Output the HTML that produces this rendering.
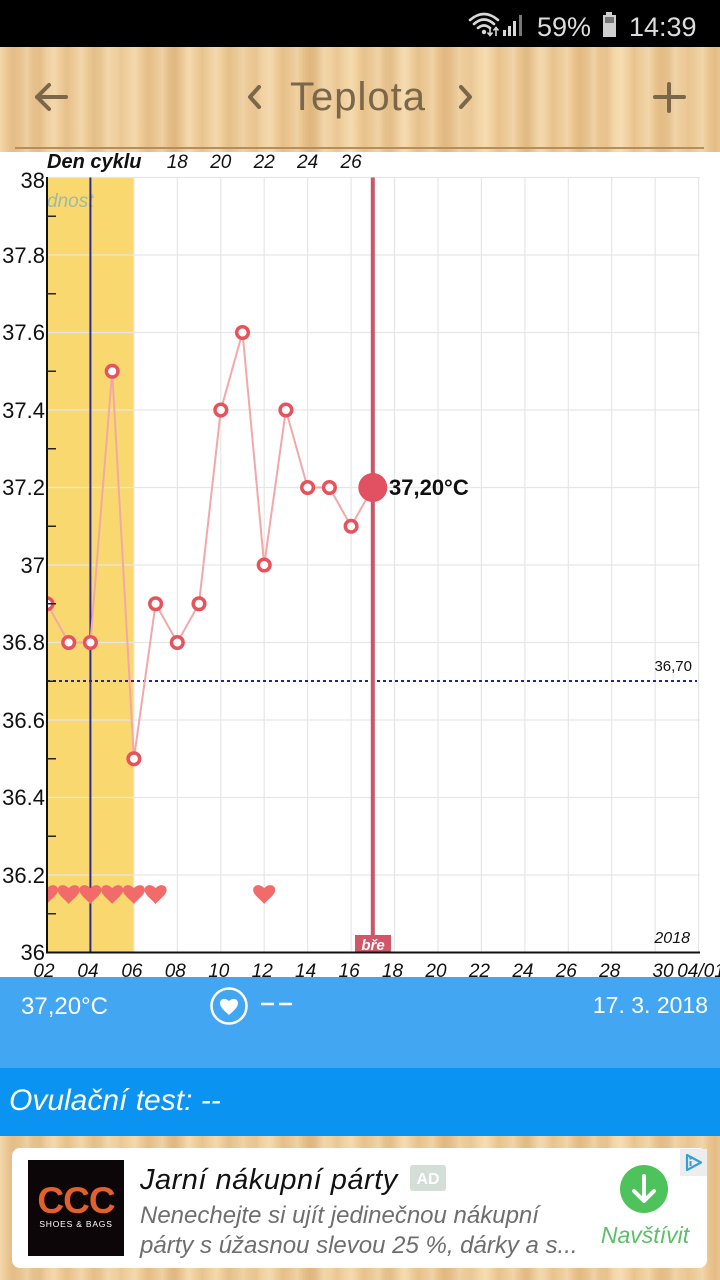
<!DOCTYPE html>
<html>
<head>
<meta charset="utf-8">
<style>
  html,body{margin:0;padding:0;}
  body{width:720px;height:1280px;position:relative;overflow:hidden;background:#fff;font-family:"Liberation Sans","DejaVu Sans",sans-serif;}
  .wood{
    background-color:#edca96;
    background-image:
      repeating-linear-gradient(90deg, rgba(255,240,210,0.35) 0px, rgba(255,240,210,0.0) 7px, rgba(200,150,90,0.18) 13px, rgba(255,240,210,0.0) 19px, rgba(255,245,220,0.3) 27px),
      repeating-linear-gradient(90deg, rgba(190,140,80,0.0) 0px, rgba(190,140,80,0.15) 31px, rgba(255,235,200,0.25) 47px, rgba(190,140,80,0.0) 71px),
      repeating-linear-gradient(90deg, rgba(240,210,160,0) 0px, rgba(220,170,110,0.2) 53px, rgba(250,225,180,0.2) 89px, rgba(240,210,160,0) 131px);
  }
  .abs{position:absolute;}
</style>
</head>
<body>

<!-- status bar -->
<div class="abs" style="left:0;top:0;width:720px;height:47px;background:#000;"></div>
<svg class="abs" style="left:0;top:0" width="720" height="47" viewBox="0 0 720 47">
  <g fill="none" stroke="#d8d8d8" stroke-width="2.6" stroke-linecap="round">
    <path d="M470 20 Q484 8 498 20"/>
    <path d="M474 24 Q484 15 494 24"/>
    <path d="M478 28 Q484 23 490 28"/>
  </g>
  <circle cx="484" cy="32" r="2.2" fill="#d8d8d8"/>
  <path d="M490 28 L490 35 M487.5 32.5 L490 35.5 L492.5 32.5" stroke="#d8d8d8" stroke-width="1.6" fill="none"/>
  <path d="M496 36 L496 28 M493.5 30.5 L496 27.5 L498.5 30.5" stroke="#d8d8d8" stroke-width="1.6" fill="none"/>
  <rect x="503" y="30" width="3" height="6" fill="#d8d8d8"/>
  <rect x="508" y="26" width="3" height="10" fill="#d8d8d8"/>
  <rect x="513" y="21" width="3" height="15" fill="#d8d8d8"/>
  <rect x="519" y="15" width="3" height="21" fill="#777"/>
  <text x="537" y="36" font-size="27" fill="#dcdcdc" font-family="Liberation Sans, sans-serif">59%</text>
  <rect x="606" y="12" width="6" height="3" fill="#cfcfcf"/>
  <rect x="603" y="15" width="13" height="22" fill="#cfcfcf"/>
  <rect x="605" y="17" width="9" height="6" fill="#777"/>
  <text x="629" y="36" font-size="27" fill="#dcdcdc" font-family="Liberation Sans, sans-serif">14:39</text>
</svg>

<!-- header wood -->
<div class="abs wood" style="left:0;top:47px;width:720px;height:105px;"></div>
<div class="abs" style="left:15px;top:147px;width:689px;height:2px;background:#b98d57;"></div>
<svg class="abs" style="left:0;top:47px" width="720" height="100" viewBox="0 47 720 100">
  <g stroke="#7a6649" stroke-width="4" fill="none" stroke-linecap="round" stroke-linejoin="round">
    <path d="M37 97 L66 97 M49 85 L37 97 L49 109"/>
    <path d="M259 87 L250 97 L259 107"/>
    <path d="M461 87 L470 97 L461 107"/>
    <path d="M669 84 L669 111 M655 97 L684 97"/>
  </g>
  <text x="358" y="110" text-anchor="middle" font-size="40" fill="#7a6649" font-family="Liberation Sans, sans-serif" letter-spacing="1">Teplota</text>
</svg>

<!-- chart -->
<svg class="abs" style="left:0;top:0" width="720" height="980" viewBox="0 0 720 980" font-family="Liberation Sans, sans-serif">
  <defs>
    <clipPath id="plot"><rect x="47" y="170" width="653" height="783"/></clipPath>
  </defs>
  <rect x="47" y="177.5" width="86.9" height="775" fill="#f9d96f"/>
  <g stroke="#e6e6e6" stroke-width="1.2">
    <line x1="47" y1="177.5" x2="700" y2="177.5"/>
    <line x1="47" y1="255" x2="700" y2="255"/>
    <line x1="47" y1="332.5" x2="700" y2="332.5"/>
    <line x1="47" y1="410" x2="700" y2="410"/>
    <line x1="47" y1="487.5" x2="700" y2="487.5"/>
    <line x1="47" y1="565" x2="700" y2="565"/>
    <line x1="47" y1="642.5" x2="700" y2="642.5"/>
    <line x1="47" y1="720" x2="700" y2="720"/>
    <line x1="47" y1="797.5" x2="700" y2="797.5"/>
    <line x1="47" y1="875" x2="700" y2="875"/>
  </g>
  <g stroke="#e6e6e6" stroke-width="1.2">
    <line x1="133.9" y1="177.5" x2="133.9" y2="952"/>
    <line x1="177.3" y1="177.5" x2="177.3" y2="952"/>
    <line x1="220.8" y1="177.5" x2="220.8" y2="952"/>
    <line x1="264.2" y1="177.5" x2="264.2" y2="952"/>
    <line x1="307.6" y1="177.5" x2="307.6" y2="952"/>
    <line x1="351.1" y1="177.5" x2="351.1" y2="952"/>
    <line x1="394.5" y1="177.5" x2="394.5" y2="952"/>
    <line x1="438" y1="177.5" x2="438" y2="952"/>
    <line x1="481.4" y1="177.5" x2="481.4" y2="952"/>
    <line x1="524.9" y1="177.5" x2="524.9" y2="952"/>
    <line x1="568.3" y1="177.5" x2="568.3" y2="952"/>
    <line x1="611.7" y1="177.5" x2="611.7" y2="952"/>
    <line x1="655.2" y1="177.5" x2="655.2" y2="952"/>
    <line x1="698.6" y1="177.5" x2="698.6" y2="952"/>
  </g>
  <text x="47" y="207" font-size="19" fill="#9fb9a2" font-style="italic" clip-path="url(#plot)">dnost</text>
  <line x1="90.4" y1="177.5" x2="90.4" y2="952" stroke="#2b2b90" stroke-width="2"/>
  <line x1="47" y1="681" x2="697" y2="681" stroke="#2424a0" stroke-width="2" stroke-dasharray="3,3"/>
  <text x="692" y="671" text-anchor="end" font-size="15" fill="#111">36,70</text>
  <text x="690" y="943" text-anchor="end" font-size="16" fill="#111" font-style="italic">2018</text>
  <line x1="372.8" y1="177.5" x2="372.8" y2="940" stroke="#c9566a" stroke-width="4"/>
  <rect x="355" y="935" width="36" height="18" fill="#d05668"/>
  <text x="373" y="950" text-anchor="middle" font-size="15" fill="#fff" font-style="italic" font-weight="bold">bře</text>

  <g clip-path="url(#plot)">
    <g fill="#f26b6b">
      <path d="M0 8 C-3 4 -11 -1 -11 -6 C-11 -11 -5 -13 0 -8 C5 -13 11 -11 11 -6 C11 -1 3 4 0 8 Z" transform="translate(47,896)"/>
      <path d="M0 8 C-3 4 -11 -1 -11 -6 C-11 -11 -5 -13 0 -8 C5 -13 11 -11 11 -6 C11 -1 3 4 0 8 Z" transform="translate(68.7,896)"/>
      <path d="M0 8 C-3 4 -11 -1 -11 -6 C-11 -11 -5 -13 0 -8 C5 -13 11 -11 11 -6 C11 -1 3 4 0 8 Z" transform="translate(90.4,896)"/>
      <path d="M0 8 C-3 4 -11 -1 -11 -6 C-11 -11 -5 -13 0 -8 C5 -13 11 -11 11 -6 C11 -1 3 4 0 8 Z" transform="translate(112.2,896)"/>
      <path d="M0 8 C-3 4 -11 -1 -11 -6 C-11 -11 -5 -13 0 -8 C5 -13 11 -11 11 -6 C11 -1 3 4 0 8 Z" transform="translate(133.9,896)"/>
      <path d="M0 8 C-3 4 -11 -1 -11 -6 C-11 -11 -5 -13 0 -8 C5 -13 11 -11 11 -6 C11 -1 3 4 0 8 Z" transform="translate(155.6,896)"/>
      <path d="M0 8 C-3 4 -11 -1 -11 -6 C-11 -11 -5 -13 0 -8 C5 -13 11 -11 11 -6 C11 -1 3 4 0 8 Z" transform="translate(264.2,896)"/>
    </g>
    <polyline fill="none" stroke="#f2a8a8" stroke-width="2"
      points="47,603.75 68.7,642.5 90.4,642.5 112.2,371.25 133.9,758.75 155.6,603.75 177.3,642.5 199,603.75 220.8,410 242.5,332.5 264.2,565 285.9,410 307.6,487.5 329.4,487.5 351.1,526.25 372.8,487.5"/>
    <g fill="#fff" stroke="#e8525c" stroke-width="3.5">
      <circle cx="47" cy="603.75" r="5.8"/>
      <circle cx="68.7" cy="642.5" r="5.8"/>
      <circle cx="90.4" cy="642.5" r="5.8"/>
      <circle cx="112.2" cy="371.25" r="5.8"/>
      <circle cx="133.9" cy="758.75" r="5.8"/>
      <circle cx="155.6" cy="603.75" r="5.8"/>
      <circle cx="177.3" cy="642.5" r="5.8"/>
      <circle cx="199" cy="603.75" r="5.8"/>
      <circle cx="220.8" cy="410" r="5.8"/>
      <circle cx="242.5" cy="332.5" r="5.8"/>
      <circle cx="264.2" cy="565" r="5.8"/>
      <circle cx="285.9" cy="410" r="5.8"/>
      <circle cx="307.6" cy="487.5" r="5.8"/>
      <circle cx="329.4" cy="487.5" r="5.8"/>
      <circle cx="351.1" cy="526.25" r="5.8"/>
    </g>
    <circle cx="372.8" cy="487.5" r="14.5" fill="#e05262"/>
  </g>
  <text x="389" y="495" font-size="22" font-weight="bold" fill="#111">37,20°C</text>

  <line x1="47" y1="177" x2="47" y2="953" stroke="#111" stroke-width="2"/>
  <line x1="46" y1="952.5" x2="700" y2="952.5" stroke="#111" stroke-width="2"/>
  <g stroke="#222" stroke-width="1.5">
    <line x1="47" y1="216.25" x2="56" y2="216.25"/>
    <line x1="47" y1="293.75" x2="56" y2="293.75"/>
    <line x1="47" y1="371.25" x2="56" y2="371.25"/>
    <line x1="47" y1="448.75" x2="56" y2="448.75"/>
    <line x1="47" y1="526.25" x2="56" y2="526.25"/>
    <line x1="47" y1="603.75" x2="56" y2="603.75"/>
    <line x1="47" y1="681.25" x2="56" y2="681.25"/>
    <line x1="47" y1="758.75" x2="56" y2="758.75"/>
    <line x1="47" y1="836.25" x2="56" y2="836.25"/>
    <line x1="47" y1="913.75" x2="56" y2="913.75"/>
  </g>
  <g font-size="22" fill="#111" text-anchor="end">
    <text x="45" y="188">38</text>
    <text x="45" y="263">37.8</text>
    <text x="45" y="340">37.6</text>
    <text x="45" y="418">37.4</text>
    <text x="45" y="495">37.2</text>
    <text x="45" y="573">37</text>
    <text x="45" y="650">36.8</text>
    <text x="45" y="728">36.6</text>
    <text x="45" y="805">36.4</text>
    <text x="45" y="883">36.2</text>
    <text x="45" y="960">36</text>
  </g>
  <text x="47" y="168" font-size="20" font-weight="bold" fill="#111" font-style="italic">Den cyklu</text>
  <g font-size="19" fill="#111" text-anchor="middle" font-style="italic">
    <text x="177.3" y="168">18</text>
    <text x="220.8" y="168">20</text>
    <text x="264.2" y="168">22</text>
    <text x="307.6" y="168">24</text>
    <text x="351.1" y="168">26</text>
  </g>
  <g font-size="19" fill="#111" text-anchor="middle" font-style="italic">
    <text x="44" y="977">02</text>
    <text x="88" y="977">04</text>
    <text x="131.9" y="977">06</text>
    <text x="175.3" y="977">08</text>
    <text x="218.8" y="977">10</text>
    <text x="262.2" y="977">12</text>
    <text x="305.6" y="977">14</text>
    <text x="349.1" y="977">16</text>
    <text x="392.5" y="977">18</text>
    <text x="436" y="977">20</text>
    <text x="479.4" y="977">22</text>
    <text x="522.9" y="977">24</text>
    <text x="566.3" y="977">26</text>
    <text x="609.7" y="977">28</text>
    <text x="663" y="977">30</text>
    <text x="701" y="977">04/01</text>
  </g>
</svg>

<!-- blue panels -->
<div class="abs" style="left:0;top:977px;width:720px;height:91px;background:#43a6f3;"></div>
<div class="abs" style="left:0;top:1068px;width:720px;height:68px;background:#0a93f0;"></div>
<svg class="abs" style="left:0;top:977px" width="720" height="159" viewBox="0 977 720 159" font-family="Liberation Sans, sans-serif">
  <text x="21" y="1014" font-size="24" fill="#fff">37,20°C</text>
  <circle cx="229" cy="1006" r="17.5" fill="none" stroke="#fff" stroke-width="2.5"/>
  <path d="M229 1015 C226 1012 220 1008 220 1003 C220 999 225 997 229 1001 C233 997 238 999 238 1003 C238 1008 232 1012 229 1015 Z" fill="#fff"/>
  <line x1="261" y1="1004" x2="274" y2="1004" stroke="#fff" stroke-width="2.5"/>
  <line x1="279" y1="1004" x2="292" y2="1004" stroke="#fff" stroke-width="2.5"/>
  <text x="708" y="1013" font-size="23" fill="#fff" text-anchor="end">17. 3. 2018</text>
  <text x="9" y="1110" font-size="30" fill="#fff" font-style="italic">Ovulační test: --</text>
</svg>

<!-- bottom wood + ad -->
<div class="abs wood" style="left:0;top:1136px;width:720px;height:144px;"></div>
<div class="abs" style="left:12px;top:1148px;width:695px;height:120px;background:#fff;border-radius:8px;"></div>
<div class="abs" style="left:28px;top:1160px;width:96px;height:96px;background:#0c0608;"></div>
<svg class="abs" style="left:0;top:1136px" width="720" height="144" viewBox="0 1136 720 144" font-family="Liberation Sans, sans-serif">
  <text x="76" y="1213" font-size="37" font-weight="bold" fill="#e2602c" text-anchor="middle" letter-spacing="-1">CCC</text>
  <text x="76" y="1227" font-size="8.5" fill="#fff" text-anchor="middle" letter-spacing="0.8">SHOES &amp; BAGS</text>
  <text x="140" y="1189" font-size="29" fill="#111" font-style="italic" letter-spacing="0.5">Jarní nákupní párty</text>
  <rect x="410" y="1165" width="36" height="26" rx="3" fill="#d3ded7"/>
  <text x="428" y="1184" font-size="16" font-weight="bold" fill="#fff" text-anchor="middle">AD</text>
  <text x="140" y="1223" font-size="24" fill="#6e6e6e" font-style="italic">Nenechejte si ujít jedinečnou nákupní</text>
  <text x="140" y="1253" font-size="24" fill="#6e6e6e" font-style="italic">párty s úžasnou slevou 25 %, dárky a s...</text>
  <circle cx="644" cy="1189" r="24" fill="#4fc35b"/>
  <path d="M644 1176 L644 1200 M634 1191 L644 1201 L654 1191" stroke="#fff" stroke-width="4" fill="none" stroke-linecap="round" stroke-linejoin="round"/>
  <text x="645" y="1243" font-size="23" fill="#5dbf69" text-anchor="middle" font-style="italic">Navštívit</text>
  <rect x="680" y="1149" width="27" height="27" fill="#ededed"/>
  <path d="M687 1155 L701 1162.5 L687 1170 Z" fill="none" stroke="#35a0d8" stroke-width="2.2" stroke-linejoin="round"/>
  <line x1="690.5" y1="1161" x2="690.5" y2="1166" stroke="#35a0d8" stroke-width="2"/>
  <circle cx="690.5" cy="1158.5" r="1.2" fill="#35a0d8"/>
</svg>

</body>
</html>
